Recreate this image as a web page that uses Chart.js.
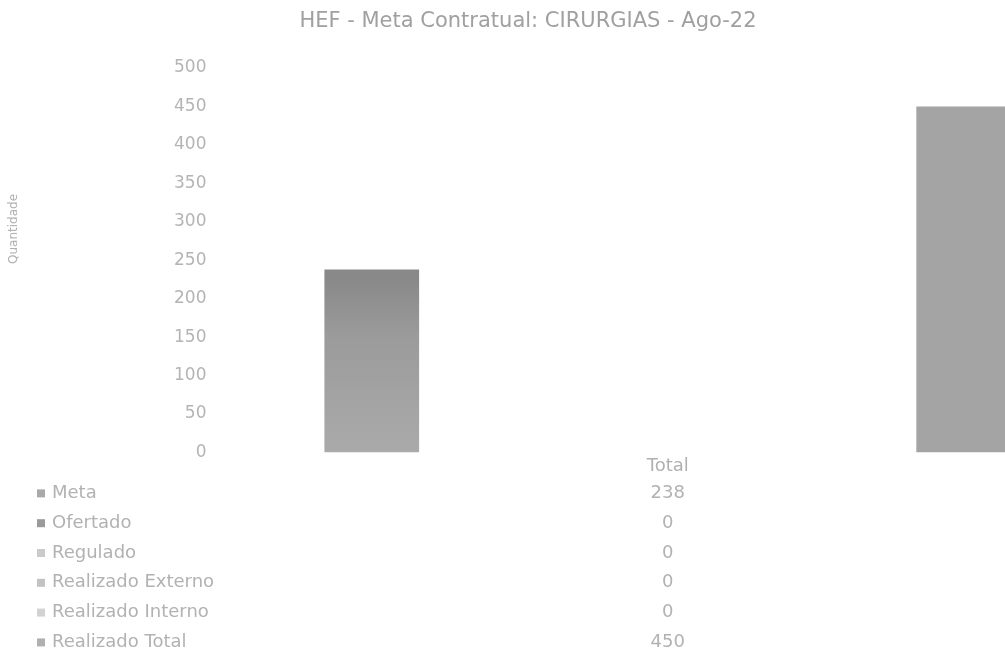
<!DOCTYPE html>
<html>
<head>
<meta charset="utf-8">
<script src="https://cdn.jsdelivr.net/npm/chart.js@4.4.0/dist/chart.umd.min.js"></script>
<style>
  html, body { margin: 0; padding: 0; background: #fff; overflow: hidden; }
  #wrap { position: relative; width: 1125px; height: 657px; }
  #title { position: absolute; left: 0; top: 8px; width: 1056px; text-align: center;
           font: 21px 'DejaVu Sans'; line-height: 24px; color: #a0a0a0; white-space: nowrap; }
  #ytitle { position: absolute; left: 13px; top: 229px; transform: translate(-50%, -50%) rotate(-90deg);
            font: 12px 'DejaVu Sans'; color: #b0b0b0; white-space: nowrap; }
  #chartBox { position: absolute; left: 0; top: 0; width: 1125px; height: 657px; }
</style>
</head>
<body>
<div id="wrap">
  <div id="chartBox"><canvas id="myChart"></canvas></div>
  <div id="title">HEF - Meta Contratual: CIRURGIAS - Ago-22</div>
  <div id="ytitle">Quantidade</div>
</div>
<script>
const ctx = document.getElementById('myChart')

Chart.defaults.font.family = "'DejaVu Sans'"
Chart.defaults.color = '#b0b0b0'

// data
const categories = ['Total']
const seriesNames = ['Meta', 'Ofertado', 'Regulado', 'Realizado Externo', 'Realizado Interno', 'Realizado Total']
const meta = [238]
const ofertado = [0]
const regulado = [0]
const realizadoExterno = [0]
const realizadoInterno = [0]
const realizadoTotal = [450]
const yMax = 500
const yStep = 50

const seriesValues = [meta, ofertado, regulado, realizadoExterno, realizadoInterno, realizadoTotal]
const keyColors = ['#a9a9a9', '#9a9a9a', '#cbcbcb', '#c2c2c2', '#d2d2d2', '#b0b0b0']

const metaFill = (c) => {
    const area = c.chart.chartArea
    if (!area) return '#999'
    const g = c.chart.ctx.createLinearGradient(0, area.top, 0, area.bottom)
    g.addColorStop(0, '#858585')
    g.addColorStop(0.55, '#898989')
    g.addColorStop(0.7, '#9b9b9b')
    g.addColorStop(1, '#aaaaaa')
    return g
}
const barFills = [metaFill, '#8f8f8f', '#bdbdbd', '#c8c8c8', '#cfcfcf', '#a4a4a4']

// data table under the plot (legend keys + values), like the spreadsheet one
const dataTable = {
    id: 'dataTable',
    afterDraw(chart) {
        const c = chart.ctx
        const cx = chart.scales.x.getPixelForValue(0)
        const top = chart.chartArea.bottom + 41
        c.save()
        c.font = "18px 'DejaVu Sans'"
        c.textBaseline = 'middle'
        chart.data.datasets.forEach((ds, i) => {
            const y = top + i * 29.8
            c.fillStyle = keyColors[i]
            c.fillRect(37, y - 4, 8, 8)
            c.fillStyle = '#b2b2b2'
            c.textAlign = 'left'
            c.fillText(ds.label, 52, y)
            c.textAlign = 'center'
            c.fillText(String(ds.data[0]), cx, y)
        })
        c.restore()
    }
}

var chart = new Chart(ctx, {
    type: 'bar',
    data: {
        labels: categories,
        datasets: seriesNames.map((name, i) => ({
            label: name,
            data: seriesValues[i],
            backgroundColor: barFills[i],
            borderWidth: 0
        }))
    },
    options: {
        responsive: true,
        maintainAspectRatio: false,
        animation: false,
        categoryPercentage: 0.787,
        barPercentage: 0.8,
        layout: {
            padding: { top: 68, left: 164, right: 6, bottom: 177 }
        },
        scales: {
            x: {
                grid: { display: false, drawTicks: false },
                border: { display: false },
                ticks: { padding: 3, font: { size: 18 }, color: '#b0b0b0' }
            },
            y: {
                min: 0,
                max: yMax,
                grid: { display: false, drawTicks: false },
                border: { display: false },
                ticks: { stepSize: yStep, padding: 10, font: { size: 17 }, color: '#b4b4b4' }
            }
        },
        plugins: {
            legend: { display: false },
            tooltip: { enabled: false },
            title: { display: false }
        }
    },
    plugins: [dataTable]
})
</script>
</body>
</html>
